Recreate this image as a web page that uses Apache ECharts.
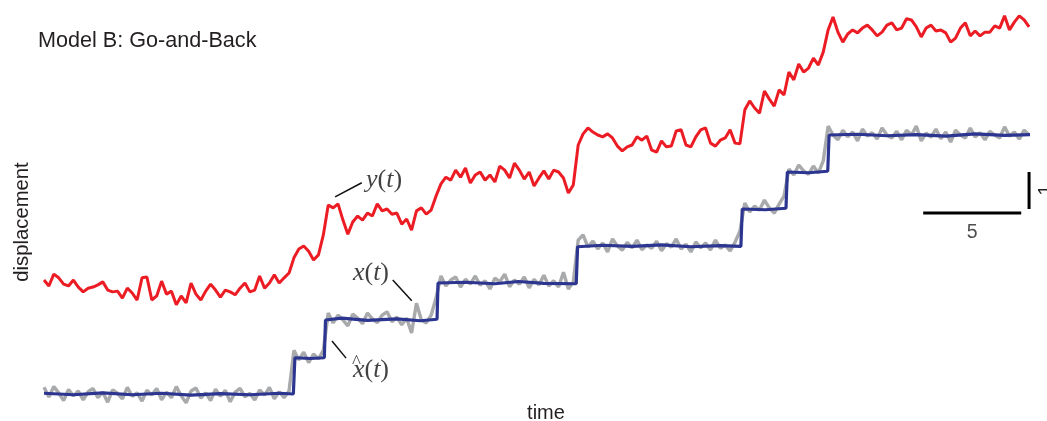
<!DOCTYPE html>
<html>
<head>
<meta charset="utf-8">
<script src="https://cdn.jsdelivr.net/npm/echarts@6/dist/echarts.min.js"></script>
<style>
html,body{margin:0;padding:0;background:#fff;}
#chart{width:1047px;height:421px;}
</style>
</head>
<body>
<div id="chart"></div>
<script>
// ---- data (time step 0.25) ----
const dt = 0.25;
// observed signal y(t)
const yObs = [
3.08,2.92,3.24,3.14,2.97,2.92,3.08,2.89,2.76,2.86,
2.89,2.95,3.03,2.81,2.76,2.78,2.59,2.86,2.73,2.54,
3.14,3.16,2.54,2.65,3.05,2.70,2.78,2.41,2.65,2.46,
3.00,2.70,2.54,2.78,2.97,2.81,2.62,2.81,2.76,2.68,
2.86,3.00,2.76,2.81,3.19,2.86,3.00,3.22,3.00,3.14,
3.27,3.68,3.92,4.00,3.86,3.62,3.76,4.30,5.11,5.03,
5.14,4.70,4.32,4.65,4.81,4.70,4.89,4.81,5.14,4.95,
5.00,4.86,4.89,4.59,4.73,4.43,4.95,5.03,4.86,4.97,
5.35,5.68,5.86,5.78,6.05,5.86,6.11,5.70,5.92,6.00,
5.78,5.92,5.73,6.16,6.05,5.84,6.24,6.05,5.81,6.00,
5.62,5.84,6.03,5.81,6.05,6.00,5.84,5.43,5.65,6.73,
7.03,7.19,7.08,7.00,6.95,7.03,6.92,6.70,6.57,6.68,
6.73,6.95,6.86,6.97,6.59,6.54,6.84,6.68,6.70,7.11,
7.14,6.73,6.68,6.95,7.14,7.19,6.78,6.70,6.86,6.92,
7.14,6.78,6.76,7.68,7.92,7.73,7.59,8.19,7.97,7.78,
8.22,8.08,8.70,8.49,8.92,8.70,8.81,9.08,8.89,9.24,
9.84,10.19,9.78,9.51,9.73,9.84,9.76,9.89,9.97,9.84,
9.68,9.78,9.97,10.03,9.84,9.89,10.14,10.11,9.92,9.65,
9.89,9.97,9.81,9.84,9.76,9.51,9.62,9.89,10.03,9.68,
9.81,9.68,9.78,9.78,9.95,9.89,10.22,9.84,10.05,10.22,
10.11,9.92
];
// true state x(t)
const xTrue = [
0.18,-0.08,0.20,0.03,-0.18,0.12,-0.05,0.08,-0.16,0.06,
0.15,-0.10,0.05,-0.22,0.11,0.02,-0.13,0.18,-0.06,0.03,
-0.19,0.10,-0.03,0.15,-0.16,0.05,-0.10,0.20,-0.05,-0.24,
0.08,0.16,-0.11,0.03,-0.18,0.13,-0.06,0.10,-0.21,0.05,
0.15,-0.08,0.02,-0.16,0.11,-0.03,0.18,-0.13,0.06,-0.10,
0.08,
1.18,0.92,1.13,0.85,1.08,0.95,1.18,
2.19,1.92,2.13,2.00,1.84,2.16,2.05,1.90,2.19,2.03,
1.93,2.13,2.22,1.95,2.08,1.87,2.05,1.65,2.45,2.00,
1.92,2.13,2.60,
3.19,2.92,3.08,3.16,2.89,3.10,2.97,3.19,2.94,3.06,
2.84,3.13,3.03,3.24,2.90,3.08,2.97,3.16,2.87,3.10,
2.95,3.21,2.92,3.06,2.89,3.29,2.84,3.03,
4.16,4.30,3.97,4.13,3.92,4.08,3.84,4.19,4.00,3.89,
4.10,3.95,4.16,3.90,4.03,3.94,4.13,3.87,4.06,3.97,
4.19,3.92,4.05,3.84,4.11,3.95,4.08,3.89,4.16,3.94,
4.03,3.87,4.10,4.40,
5.16,4.92,5.08,4.97,5.24,5.03,4.89,5.13,5.35,
6.08,5.92,6.19,6.03,5.94,6.16,5.97,6.30,
7.24,7.00,6.87,7.13,6.95,7.08,6.84,7.16,6.97,7.06,
6.89,7.19,7.00,6.92,7.10,6.87,7.13,7.00,7.24,6.84,
7.05,6.94,7.16,6.90,7.08,6.81,7.13,7.00,6.92,7.19,
6.95,7.06,6.87,7.10,7.00,6.92,7.22,6.97,7.08,6.89,
7.13,7.00
];
// estimate x-hat(t): [time, displacement] breakpoints
const xHat = [
[0,0.02],[1.5,-0.02],[3,0.03],[4.5,-0.02],[6,0.02],[7.5,-0.03],[9,0.01],[10.5,-0.02],[12,0.02],[12.72,0.0],
[12.8,0.98],[13.6,0.96],[14.3,0.98],
[14.36,2.0],[15.2,2.05],[16.5,1.99],[18,2.03],[19.2,1.98],[20.05,2.02],
[20.1,3.0],[21.5,3.02],[23,2.98],[24.2,3.04],[25.5,2.99],[27.15,2.98],
[27.22,3.98],[28.5,4.02],[30,3.99],[31.5,4.03],[33,3.98],[34.5,4.01],[35.55,3.99],
[35.62,5.0],[36.8,4.98],[37.85,5.02],
[37.92,6.0],[39.0,5.98],[39.98,6.02],
[40.05,7.0],[41.5,7.02],[43,6.98],[44.5,7.01],[46,6.97],[47.5,7.03],[49,6.99],[50.3,7.01]
];
// scale bars (time 5, displacement 1)
const scaleBarTime = [[44.85,4.89],[49.85,4.89]];
const scaleBarDisp = [[50.25,5.0],[50.25,6.0]];
const scaleLabels = [{pos:[47.35,4.35], text:'5'}];
// annotation labels and leader lines
const annoLabels = [
  {pos:[17.35,5.78], v:'y'},
  {pos:[16.68,3.27], v:'x'},
  {pos:[16.68,0.65], v:'x'}
];
const annoHat = [{pos:[15.94,0.84], text:'^'}];
const leaders = [
  [[14.85,5.33],[16.21,5.71]],
  [[17.79,3.08],[18.76,2.52]],
  [[14.69,1.43],[15.41,0.97]]
];

const chart = echarts.init(document.getElementById('chart'), null, {renderer:'canvas'});
const series = [
  {type:'line', data:xTrue.map((v,i)=>[i*dt,v]), showSymbol:false, silent:true,
   lineStyle:{color:'#a9aaac', width:3.4}, z:2},
  {type:'line', data:xHat, showSymbol:false, silent:true,
   lineStyle:{color:'#2c3590', width:3.2}, z:3},
  {type:'line', data:yObs.map((v,i)=>[i*dt,v]), showSymbol:false, silent:true,
   lineStyle:{color:'#ec1c24', width:3}, z:4}
];
leaders.forEach(l=>series.push({type:'line', data:l, showSymbol:false, silent:true,
  lineStyle:{color:'#111', width:1.5}, z:5}));
series.push({type:'line', data:scaleBarTime, showSymbol:false, silent:true, clip:false,
  lineStyle:{color:'#000', width:3}, z:5});
series.push({type:'line', data:scaleBarDisp, showSymbol:false, silent:true, clip:false,
  lineStyle:{color:'#000', width:3}, z:5});
series.push({type:'scatter', data:scaleLabels.map(s=>({value:s.pos, name:s.text})), symbolSize:0, silent:true, clip:false,
  label:{show:true, position:'inside', formatter:p=>p.name, fontFamily:'Liberation Sans', fontSize:19.5, color:'#222'}, z:6});
series.push({type:'scatter', data:annoLabels.map(s=>({value:s.pos, name:s.v})), symbolSize:0, silent:true, clip:false,
  label:{show:true, position:'inside',
    formatter:p=>'{i|'+p.name+'}{n|(}{i|t}{n|)}',
    rich:{
      i:{fontFamily:'Liberation Serif', fontStyle:'italic', fontSize:26, color:'#111'},
      n:{fontFamily:'Liberation Serif', fontSize:26, color:'#111'}
    }}, z:6});
series.push({type:'scatter', data:annoHat.map(s=>({value:s.pos, name:s.text})), symbolSize:0, silent:true, clip:false,
  label:{show:true, position:'inside', formatter:p=>p.name, fontFamily:'Liberation Serif', fontSize:19, color:'#111'}, z:6});

chart.setOption({
  animation:false,
  backgroundColor:'#fff',
  grid:{left:44, right:15, top:1.8, bottom:4.8},
  xAxis:{type:'value', min:0, max:50.4, show:false},
  yAxis:{type:'value', min:-0.6, max:10.6, show:false},
  graphic:[
    {type:'text', left:38, top:30, style:{text:'Model B: Go-and-Back', fontFamily:'Liberation Sans', fontSize:21.6, fill:'#231f20'}},
    {type:'text', x:22, y:222, rotation:Math.PI/2, style:{text:'displacement', fontFamily:'Liberation Sans', fontSize:20.3, fill:'#231f20', align:'center', verticalAlign:'middle'}},
    {type:'text', x:546, y:413, style:{text:'time', fontFamily:'Liberation Sans', fontSize:20, fill:'#231f20', align:'center', verticalAlign:'middle'}},
    {type:'text', x:1047, y:190, rotation:Math.PI/2, style:{text:'1', fontFamily:'Liberation Sans', fontSize:19.5, fill:'#231f20', align:'center', verticalAlign:'middle'}}
  ],
  series:series
});
</script>
</body>
</html>
